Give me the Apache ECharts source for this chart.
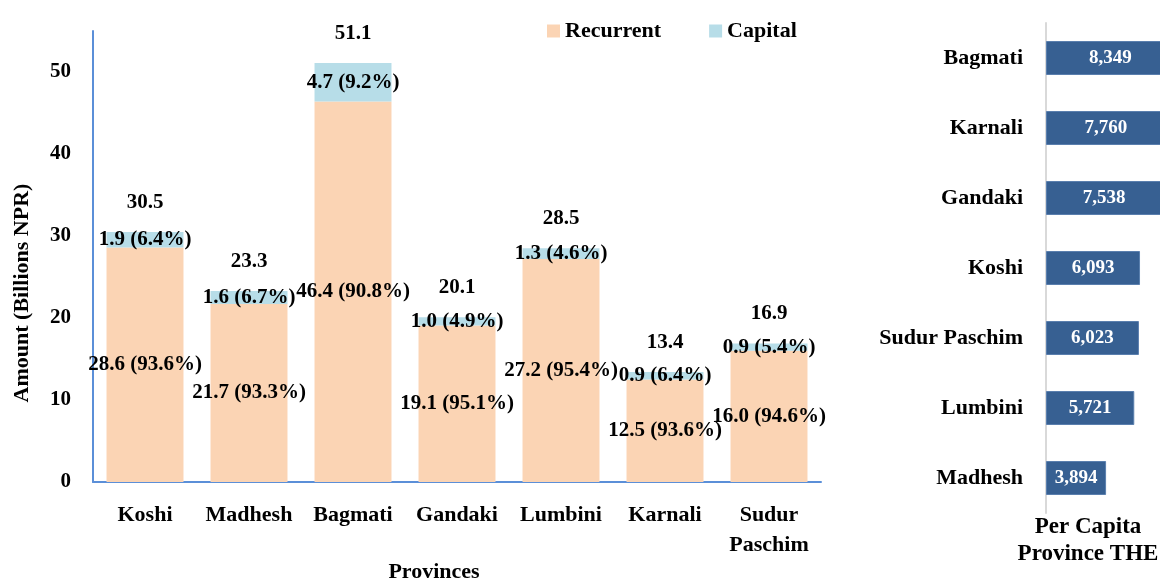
<!DOCTYPE html>
<html>
<head>
<meta charset="utf-8">
<script src="https://cdn.jsdelivr.net/npm/echarts@6/dist/echarts.min.js"></script>
<style>
  html, body { margin: 0; padding: 0; background: #fff; }
  #main { width: 1160px; height: 578px; }
</style>
</head>
<body>
<div id="main"></div>
<script>
// left panel: province spending, billions NPR
var provinces = ['Koshi', 'Madhesh', 'Bagmati', 'Gandaki', 'Lumbini', 'Karnali', 'Sudur\nPaschim'];
var recurrent = [28.6, 21.7, 46.4, 19.1, 27.2, 12.5, 16.0];
var recurrentPct = [93.6, 93.3, 90.8, 95.1, 95.4, 93.6, 94.6];
var capital = [1.9, 1.6, 4.7, 1.0, 1.3, 0.9, 0.9];
var capitalPct = [6.4, 6.7, 9.2, 4.9, 4.6, 6.4, 5.4];
var totals = [30.5, 23.3, 51.1, 20.1, 28.5, 13.4, 16.9];

// right panel: per capita THE
var pcProvinces = ['Bagmati', 'Karnali', 'Gandaki', 'Koshi', 'Sudur Paschim', 'Lumbini', 'Madhesh'];
var pcValues = [8349, 7760, 7538, 6093, 6023, 5721, 3894];

var font = '"Liberation Serif", "DejaVu Serif", serif';
var chart = echarts.init(document.getElementById('main'));

function fmtPart(vals, pcts) {
    return function (p) {
        return vals[p.dataIndex].toFixed(1) + ' (' + pcts[p.dataIndex].toFixed(1) + '%)';
    };
}

var option = {
    backgroundColor: '#fff',
    textStyle: { fontFamily: font },
    animation: false,
    legend: {
        data: ['Recurrent', 'Capital'],
        left: 542,
        top: 15,
        icon: 'rect',
        itemWidth: 13,
        itemHeight: 13,
        itemGap: 48,
        textStyle: { fontFamily: font, fontWeight: 'bold', fontSize: 22, color: '#000' }
    },
    grid: [
        { left: 93, top: 31, right: 339, bottom: 96, outerBoundsMode: 'none' },
        { left: 1046, top: 23, width: 130, bottom: 65, outerBoundsMode: 'none' }
    ],
    xAxis: [{
        type: 'category',
        gridIndex: 0,
        data: provinces,
        name: 'Provinces',
        nameLocation: 'middle',
        nameGap: 79,
        nameMoveOverlap: false,
        nameTextStyle: { fontFamily: font, fontWeight: 'bold', fontSize: 22, color: '#000', padding: [0, 46, 0, 0] },
        axisLine: { lineStyle: { color: '#5b8fd8', width: 2 } },
        axisTick: { show: false },
        axisLabel: { fontFamily: font, fontWeight: 'bold', fontSize: 22, color: '#000', margin: 18, lineHeight: 30, interval: 0 }
    }, {
        type: 'value',
        gridIndex: 1,
        min: 0,
        max: 8425,
        show: false
    }],
    yAxis: [{
        type: 'value',
        gridIndex: 0,
        min: 0,
        max: 55,
        interval: 10,
        axisLine: { show: true, lineStyle: { color: '#5b8fd8', width: 2 } },
        axisTick: { show: false },
        splitLine: { show: false },
        axisLabel: { fontFamily: font, fontWeight: 'bold', fontSize: 21, color: '#000', margin: 22, showMaxLabel: false }
    }, {
        type: 'category',
        gridIndex: 1,
        data: pcProvinces,
        inverse: true,
        axisLine: { lineStyle: { color: '#d9d9d9', width: 2 } },
        axisTick: { show: false },
        axisLabel: { fontFamily: font, fontWeight: 'bold', fontSize: 22, color: '#000', margin: 23 }
    }],
    graphic: [{
        type: 'text',
        x: 22,
        y: 293,
        rotation: Math.PI / 2,
        style: {
            text: 'Amount (Billions NPR)',
            font: 'bold 22px ' + font,
            fill: '#000',
            align: 'center',
            verticalAlign: 'middle'
        }
    }, {
        type: 'text',
        x: 1088,
        y: 541,
        style: {
            text: 'Per Capita\nProvince THE',
            font: 'bold 23px ' + font,
            fill: '#000',
            align: 'center',
            verticalAlign: 'middle',
            lineHeight: 27
        }
    }],
    series: [{
        name: 'Recurrent',
        type: 'bar',
        stack: 'amt',
        xAxisIndex: 0,
        yAxisIndex: 0,
        barCategoryGap: '26%',
        itemStyle: { color: '#fbd4b4' },
        label: {
            show: true,
            position: 'inside',
            formatter: fmtPart(recurrent, recurrentPct),
            fontFamily: font, fontWeight: 'bold', fontSize: 21, color: '#000'
        },
        data: recurrent
    }, {
        name: 'Capital',
        type: 'bar',
        stack: 'amt',
        xAxisIndex: 0,
        yAxisIndex: 0,
        itemStyle: { color: '#b7dde8' },
        label: {
            show: true,
            position: 'inside',
            formatter: fmtPart(capital, capitalPct),
            fontFamily: font, fontWeight: 'bold', fontSize: 21, color: '#000'
        },
        data: capital
    }, {
        name: 'Total',
        type: 'scatter',
        xAxisIndex: 0,
        yAxisIndex: 0,
        symbolSize: 0,
        itemStyle: { opacity: 1 },
        label: {
            show: true,
            position: 'top',
            distance: 19,
            formatter: function (p) { return totals[p.dataIndex].toFixed(1); },
            fontFamily: font, fontWeight: 'bold', fontSize: 21, color: '#000'
        },
        data: totals
    }, {
        name: 'Per Capita',
        type: 'bar',
        xAxisIndex: 1,
        yAxisIndex: 1,
        barWidth: 34,
        itemStyle: { color: '#376092', borderColor: '#5a7fae', borderWidth: 1 },
        label: {
            show: true,
            position: 'inside',
            formatter: function (p) { return p.value.toLocaleString('en-US'); },
            fontFamily: font, fontWeight: 'bold', fontSize: 19, color: '#fff'
        },
        data: pcValues
    }]
};

option && chart.setOption(option);
</script>
</body>
</html>
